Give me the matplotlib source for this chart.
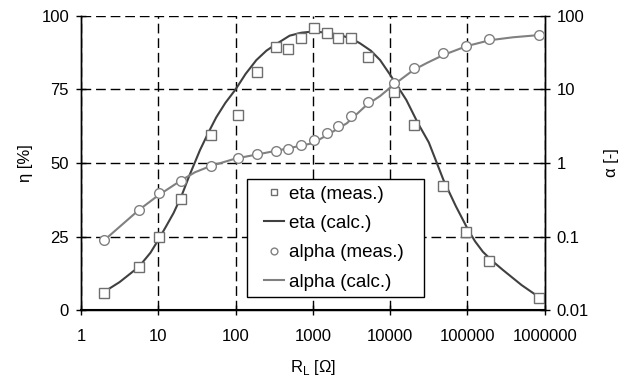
import numpy as np
import matplotlib.pyplot as plt
from matplotlib.ticker import FixedLocator, FixedFormatter, NullLocator
from matplotlib.legend_handler import HandlerLine2D

plt.rcParams['font.family'] = ['Liberation Sans', 'DejaVu Sans']
plt.rcParams['font.size'] = 12

# measured load resistances
r_meas = [2, 5.6, 10.2, 19.5, 47.6, 108, 191, 330, 481, 695, 1033, 1507, 2130, 3080,
          5210, 11200, 20300, 48700, 97000, 190000, 850000]
eta_meas = [5.8, 14.7, 24.7, 37.9, 59.5, 66.3, 81, 89.6, 88.7, 92.6, 95.8, 94.1, 92.6, 92.4,
            86, 74.3, 62.9, 42.3, 26.6, 16.8, 4.2]
alpha_meas = [0.0895, 0.229, 0.387, 0.574, 0.92, 1.16, 1.32, 1.47, 1.55, 1.76, 2.06, 2.58, 3.21, 4.4,
              6.7, 12.1, 19.4, 31, 39.5, 48, 55]

# calculated curves
r_eta_calc = [2, 3.16, 5.62, 7.94, 10, 12.6, 15.8, 20, 25.1, 34.7, 44.7, 56.2, 74.1, 100,
              135, 186, 251, 316, 501, 708, 1000, 1585, 2239, 3162, 4074, 5623, 7413, 10000,
              16218, 22909, 31623, 48978, 70795, 102329, 125893, 158489, 213796, 288403,
              501187, 831764]
eta_calc = [6.2, 9.5, 14.7, 19.5, 23.8, 28.4, 33, 38.8, 45.5, 54.4, 60.4, 65.5, 70.5, 75,
            80.3, 85, 88.2, 90, 93.3, 94.3, 94.7, 94.3, 93.5, 92.3, 90.7, 88.2, 85, 80,
            71.4, 63.5, 57, 44.2, 35.3, 27.2, 23.3, 19.8, 16.5, 13.6,
            8.5, 4.5]

r_alpha_calc = [2, 5.6, 10, 19.5, 30, 47.9, 100, 200, 372, 1000, 1585, 2750, 5000, 7400,
                11000, 20000, 30000, 49000, 97700, 195000, 389000, 850000]
alpha_calc = [0.089, 0.229, 0.363, 0.575, 0.75, 0.912, 1.15, 1.32, 1.50, 1.86, 2.45, 3.47, 6.2, 8.13,
              11.5, 18.4, 23, 29.5, 38.9, 46.8, 51.3, 55]

fig = plt.figure(figsize=(6.32, 3.8), dpi=100)
ax = fig.add_axes([0.128, 0.184, 0.734, 0.774])
ax2 = ax.twinx()

dash = (0, (7, 3.5))
ax.set_xscale('log')
ax.set_xlim(1, 1e6)
ax.set_ylim(0, 100)
ax.set_yticks([0, 25, 50, 75, 100])
xt = [1, 10, 100, 1000, 10000, 100000, 1000000]
ax.xaxis.set_major_locator(FixedLocator(xt))
ax.xaxis.set_major_formatter(FixedFormatter([str(v) for v in xt]))
ax.xaxis.set_minor_locator(NullLocator())
ax.grid(True, color='black', linestyle=dash, linewidth=1)

ax2.set_yscale('log')
ax2.set_ylim(0.01, 100)
yt = [0.01, 0.1, 1, 10, 100]
ax2.yaxis.set_major_locator(FixedLocator(yt))
ax2.yaxis.set_major_formatter(FixedFormatter(['0.01', '0.1', '1', '10', '100']))
ax2.yaxis.set_minor_locator(NullLocator())

for a in (ax, ax2):
    a.spines['top'].set_visible(False)
    for s in a.spines.values():
        s.set_linewidth(1)
    a.tick_params(direction='inout', length=7, width=1, labelsize=12, pad=5)
ax.tick_params(axis='x', pad=10)
ax.spines['bottom'].set_linewidth(1.5)

h1, = ax.plot(r_meas, eta_meas, linestyle='none', marker='s', markersize=7,
              markerfacecolor='white', markeredgecolor='#6e6e6e', markeredgewidth=1,
              label='eta (meas.)', zorder=4)
h2, = ax.plot(r_eta_calc, eta_calc, color='#404040', linewidth=1.5, label='eta (calc.)', zorder=3)
h3, = ax2.plot(r_meas, alpha_meas, linestyle='none', marker='o', markersize=7,
               markerfacecolor='white', markeredgecolor='#808080', markeredgewidth=1,
               label='alpha (meas.)', zorder=4)
h4, = ax2.plot(r_alpha_calc, alpha_calc, color='#808080', linewidth=1.5, label='alpha (calc.)', zorder=3)

ax.set_ylabel('η [%]', fontsize=12, labelpad=6)
ax2.set_ylabel('α [-]', fontsize=12, labelpad=11)
ax.set_xlabel('R$_\\mathregular{L}$ [Ω]', fontsize=12, labelpad=10)

handles = [h1, h2, h3, h4]
hmap = {h: HandlerLine2D(xpad=0.6) for h in handles}
leg = ax2.legend(handles, ['eta (meas.)', 'eta (calc.)', 'alpha (meas.)', 'alpha (calc.)'],
                 handler_map=hmap,
                 loc='lower left', bbox_to_anchor=(0.357, 0.044, 0.383, 0.404), mode='expand',
                 borderaxespad=0, fancybox=False, framealpha=1, edgecolor='black', fontsize=13.5,
                 handlelength=1.65, markerscale=0.7, borderpad=0.35, labelspacing=0.65,
                 handletextpad=0.27)
leg.get_frame().set_linewidth(1)
leg.set_zorder(10)

fig.savefig('out.png', dpi=100)
